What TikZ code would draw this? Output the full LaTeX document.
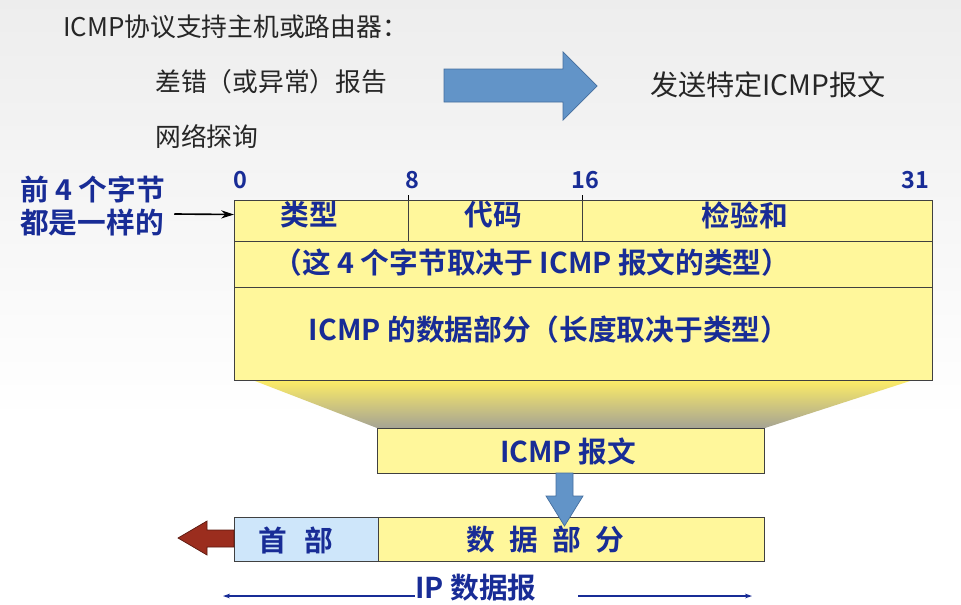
\documentclass[tikz,border=0pt]{standalone}
\usepackage{fontspec}
\setmainfont{Noto Sans CJK SC}[BoldFont={Noto Sans CJK SC Bold}]
\usetikzlibrary{positioning,arrows.meta}

\definecolor{pktyellow}{RGB}{255,247,155}
\definecolor{hdrblue}{RGB}{206,230,250}
\definecolor{lblblue}{RGB}{24,44,150}
\definecolor{arrblue}{RGB}{98,148,200}
\definecolor{arrblueline}{RGB}{68,110,158}
\definecolor{arrred}{RGB}{155,45,30}
\definecolor{arrredline}{RGB}{90,25,15}
\definecolor{txtgray}{RGB}{38,38,38}
\definecolor{funtop}{RGB}{250,230,65}
\definecolor{funbot}{RGB}{165,163,148}

\begin{document}
\begin{tikzpicture}[x=0.03cm, y=-0.03cm,
    field/.style={draw=black!75, line width=0.7pt, fill=pktyellow, inner sep=0pt, outer sep=0pt, anchor=north west},
    hdrfield/.style={field, fill=hdrblue},
    lbl/.style={inner sep=0pt, font=\fontsize{24.5}{27.5}\selectfont\bfseries, text=lblblue},
    bitnum/.style={font=\fontsize{20}{24}\selectfont\bfseries, text=lblblue},
    plain/.style={inner sep=0pt, anchor=west, font=\fontsize{22}{26}\selectfont, text=txtgray},
    blockarrow/.style={fill=arrblue, draw=arrblueline, line width=0.6pt},
    dimline/.style={draw=lblblue, line width=1.2pt, -{Stealth[length=6pt,width=4pt]}}
]
    \useasboundingbox (0,0) rectangle (961,604);
    % background
    \shade[top color=black!7, bottom color=white] (0,0) rectangle (961,420);

    % Intro text
    \node[plain] (intro) at (63,27) {ICMP协议支持主机或路由器：};
    \node[plain] (err) at (155,82) {差错（或异常）报告};
    \node[plain] (probe) at (155,137) {网络探询};
    \node[plain, font=\fontsize{24}{28}\selectfont] (send) at (650,85) {发送特定ICMP报文};
    \draw[blockarrow] (444,69) -- (563,69) -- (563,52) -- (597,86) -- (563,120) -- (563,102) -- (444,102) -- cycle;

    % ICMP header fields
    \node[field, minimum width=5.22cm, minimum height=1.23cm] (type) at (234,200) {};
    \node[field, minimum width=5.22cm, minimum height=1.23cm] (code) at (type.north east) {};
    \node[field, minimum width=10.5cm, minimum height=1.23cm] (csum) at (code.north east) {};
    \node[field, minimum width=20.94cm, minimum height=1.38cm] (rest) at (type.south west) {};
    \node[field, minimum width=20.94cm, minimum height=2.79cm] (body) at (rest.south west) {};
    \draw[line width=0.7pt] (code.north west) -- ++(0,-5);
    \draw[line width=0.7pt] (csum.north west) -- ++(0,-5);
    \node[lbl] (typetxt) at (309,215) {类型};
    \node[lbl] (codetxt) at (493,215) {代码};
    \node[lbl] (csumtxt) at (745,215) {检验和};
    \node[lbl] (resttxt) at (532,263) {（这 4 个字节取决于 ICMP 报文的类型）};
    \node[lbl] (bodytxt) at (549,330) {ICMP 的数据部分（长度取决于类型）};

    % Bit positions
    \node[bitnum] (b0) at (240,180) {0};
    \node[bitnum] (b8) at (412,180) {8};
    \node[bitnum] (b16) at (585,180) {16};
    \node[bitnum] (b31) at (915,180) {31};

    % Left note
    \node[lbl, align=left, anchor=west] (same) at (20,206) {前 4 个字节\\都是一样的};
    \draw[line width=1.4pt, -{Stealth[length=11pt,width=7pt]}] ([shift={(9,8)}]same.east) -- ([shift={(0,-6)}]type.west);

    % Funnel
    \shade[top color=funtop!80!white, middle color=funtop, bottom color=funbot] (255,381) -- (910,381) -- (765,428) -- (377,428) -- cycle;

    % ICMP message
    \node[field, minimum width=11.61cm, minimum height=1.35cm] (icmp) at (377,428) {};
    \node[lbl] (icmptxt) at (568,451) {ICMP 报文};

    % IP datagram
    \node[hdrfield, minimum width=4.32cm, minimum height=1.32cm] (hdr) at (234,517) {};
    \node[field, minimum width=11.58cm, minimum height=1.32cm] (ipdata) at (hdr.north east) {};
    \node[lbl] (hdrtxt) at (296,540) {首\hspace{0.6em}部};
    \node[lbl] (ipdatatxt) at (545,540) {数\hspace{0.5em}据\hspace{0.5em}部\hspace{0.5em}分};
    \draw[blockarrow] (556,473) -- (573,473) -- (573,496) -- (583,496) -- (564.5,526) -- (546,496) -- (556,496) -- cycle;
    \draw[fill=arrred, draw=arrredline, line width=0.6pt] (234,530) -- (207,530) -- (207,521) -- (178,538) -- (207,555) -- (207,547) -- (234,547) -- cycle;

    % IP datagram span
    \node[lbl] (ipdg) at (476,588) {IP 数据报};
    \coordinate (ipl) at (223,596);
    \coordinate (ipr) at (752,596);
    \coordinate (iprs) at (578,596);
    \draw[dimline] (ipdg.west |- ipl) -- (ipl);
    \draw[dimline] (iprs) -- (ipr);

\end{tikzpicture}
\end{document}
